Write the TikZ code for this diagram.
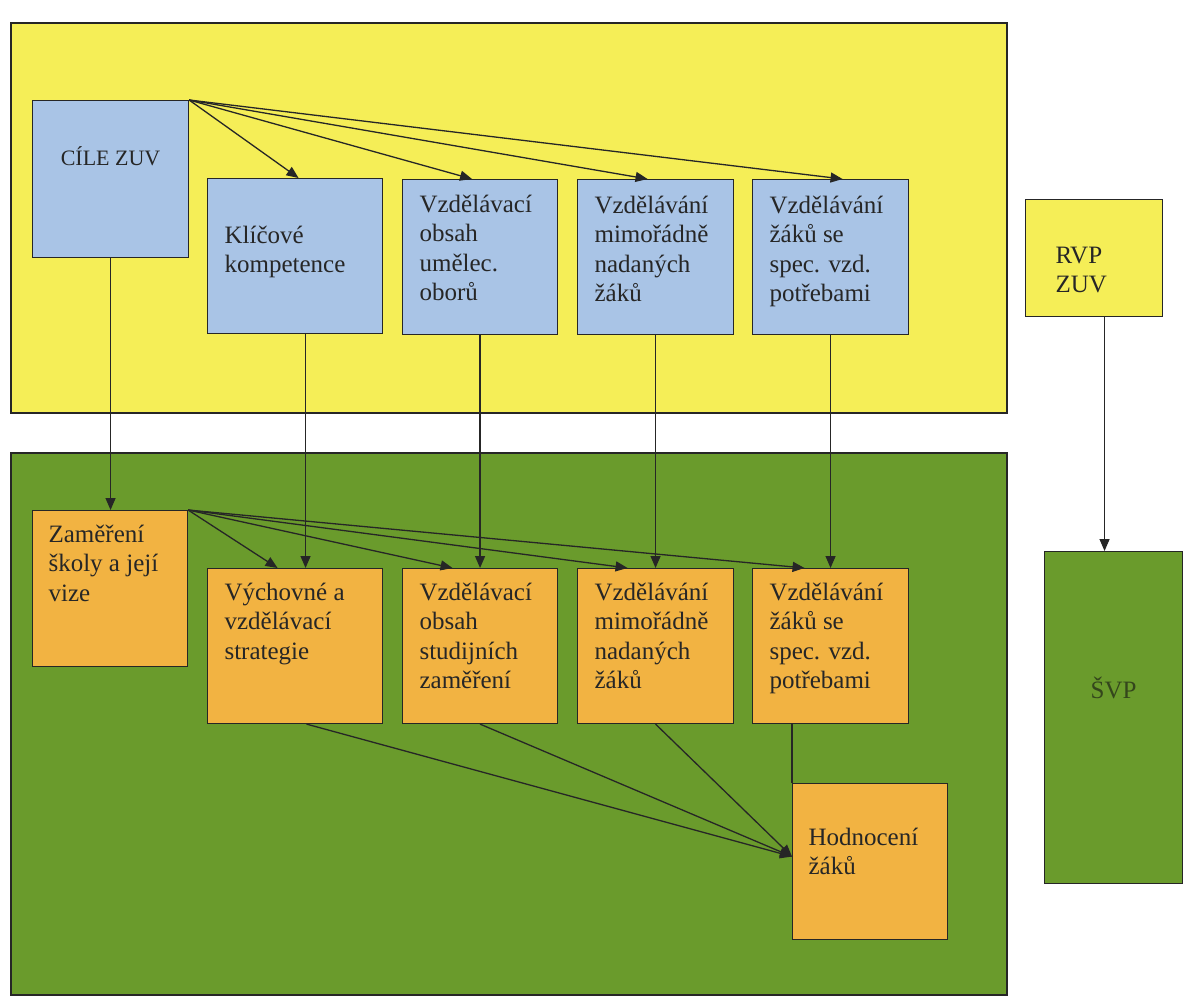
\documentclass[tikz,border=0pt]{standalone}
\usepackage{fontspec}
\setmainfont{Liberation Serif}
\usetikzlibrary{arrows.meta}
\definecolor{panelyellow}{HTML}{F5EE57}
\definecolor{panelgreen}{HTML}{6A9B2C}
\definecolor{boxblue}{HTML}{A9C4E6}
\definecolor{boxorange}{HTML}{F2B342}
\definecolor{ink}{HTML}{262626}
\definecolor{svpink}{HTML}{34461C}
% #1 total height, #2 text width, #3 top gap, #4 text
\newcommand{\bxtext}[4]{\parbox[c][#1pt][t]{#2pt}{\vspace*{#3pt}\raggedright\strut #4}}
\newcommand{\bxctext}[4]{\parbox[c][#1pt][t]{#2pt}{\vspace*{#3pt}\centering\strut #4}}
\begin{document}
\begin{tikzpicture}[x=1pt,y=-1pt,
  panel/.style={draw=ink, line width=1.4pt},
  boxbase/.style={draw=ink, line width=1.1pt, anchor=north west, inner ysep=0pt, inner xsep=17pt,
     text=ink, font=\fontsize{25}{29.5}\selectfont},
  bluebox/.style={boxbase, fill=boxblue},
  orangebox/.style={boxbase, fill=boxorange},
  conn/.style={draw=ink, line width=1.3pt},
  arr/.style={conn, -{Triangle[length=12pt,width=10pt]}}
]
\useasboundingbox (0,0) rectangle (1192,998);
\fill[white] (0,0) rectangle (1192,998);

% panels
\draw[panel, fill=panelyellow] (11,23) rectangle (1007,413);
\draw[panel, fill=panelgreen] (11,453) rectangle (1007,995);

% upper (blue) boxes
\node[bluebox] (cile) at (32,100)
  {\bxctext{157}{122}{44}{\fontsize{22}{26}\selectfont CÍLE ZUV}};
\node[bluebox] (kk) at (207,178) {\bxtext{155}{141}{44}{Klíčové\\kompetence}};
\node[bluebox] (vzu) at (402,179) {\bxtext{155}{121}{12}{Vzdělávací\\obsah\\umělec.\\oborů}};
\node[bluebox] (mimu) at (577,179) {\bxtext{155}{122}{13}{Vzdělávání\\mimořádně\\nadaných\\žáků}};
\node[bluebox] (specu) at (752,179) {\bxtext{155}{122}{13}{Vzdělávání\\žáků se\\spec. vzd.\\potřebami}};

% lower (orange) boxes
\node[orangebox, inner xsep=16pt] (zam) at (32,510) {\bxtext{156}{123}{11}{Zaměření\\školy a její\\vize}};
\node[orangebox] (vych) at (207,568) {\bxtext{155}{141}{11}{Výchovné a\\vzdělávací\\strategie}};
\node[orangebox] (vzs) at (402,568) {\bxtext{155}{121}{11}{Vzdělávací\\obsah\\studijních\\zaměření}};
\node[orangebox] (miml) at (577,568) {\bxtext{155}{122}{11}{Vzdělávání\\mimořádně\\nadaných\\žáků}};
\node[orangebox] (specl) at (752,568) {\bxtext{155}{122}{11}{Vzdělávání\\žáků se\\spec. vzd.\\potřebami}};
\node[orangebox, inner xsep=16pt] (hod) at (792,783) {\bxtext{156}{123}{41}{Hodnocení\\žáků}};

% right column
\node[boxbase, fill=panelyellow, inner xsep=30pt] (rvp) at (1025,199) {\bxtext{117}{77}{43}{RVP\\ZUV}};
\node[boxbase, fill=panelgreen, inner xsep=10pt, text=svpink] (svp) at (1044,551) {\bxctext{332}{118}{125}{ŠVP}};

% top fan from CILE ZUV
\draw[arr] (cile.north east) -- ([xshift=3.5pt]kk.north);
\draw[arr] (cile.north east) -- ([xshift=-8pt]vzu.north);
\draw[arr] (cile.north east) -- ([xshift=-8pt]mimu.north);
\draw[arr] (cile.north east) -- ([xshift=12pt]specu.north);

% vertical links upper -> lower
\draw[arr] (cile.south) -- (cile.south |- zam.north);
\draw[arr] ([xshift=10.5pt]kk.south) -- ([xshift=10.5pt]kk.south |- vych.north);
\draw[arr] (vzu.south) -- (vzu.south |- vzs.north);
\draw[arr] (mimu.south) -- (mimu.south |- miml.north);
\draw[arr] (specu.south) -- (specu.south |- specl.north);
\draw[arr] ([xshift=10.5pt]rvp.south) -- ([xshift=10.5pt]rvp.south |- svp.north);

% lower fan from Zamereni
\draw[arr] (zam.north east) -- ([xshift=-17.5pt]vych.north);
\draw[arr] (zam.north east) -- ([xshift=-27.5pt]vzs.north);
\draw[arr] (zam.north east) -- ([xshift=-28pt]miml.north);
\draw[arr] (zam.north east) -- ([xshift=-26pt]specl.north);

% to Hodnoceni
\coordinate (hodin) at ([yshift=5pt]hod.west);
\draw[arr] ([xshift=11.5pt]vych.south) -- (hodin);
\draw[arr] (vzs.south) -- (hodin);
\draw[arr] (miml.south) -- (hodin);
\draw[conn] ([xshift=40pt]specl.south west) -- (hod.north west);
\end{tikzpicture}
\end{document}
